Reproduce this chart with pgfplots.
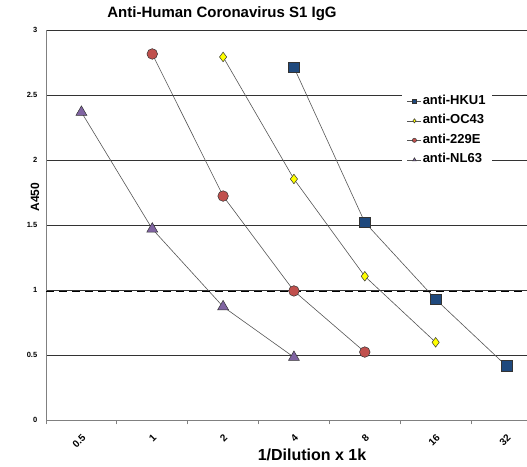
\documentclass[border=0pt]{standalone}
\usepackage{fontspec}
\setmainfont{Liberation Sans}
\usepackage{pgfplots}
\pgfplotsset{compat=1.18}

\definecolor{hkublue}{HTML}{1F497D}
\definecolor{ocyellow}{HTML}{FFFF00}
\definecolor{ered}{HTML}{C0504D}
\definecolor{nlpurple}{HTML}{8064A2}
\definecolor{conn}{HTML}{555555}
\definecolor{markedge}{HTML}{333333}

\begin{document}
\begin{tikzpicture}
  \path[use as bounding box] (0,0) rectangle (527pt,466pt);
  \begin{axis}[
      at={(46pt,45.7pt)}, anchor=south west,
      scale only axis, width=481pt, height=390pt,
      xmin=-0.5, xmax=6.29, ymin=0, ymax=3,
      axis x line=bottom, axis y line=left,
      axis line style={draw=gray, line width=0.8pt, -},
      xtick={0,...,6},
      xticklabels={0.5,1,2,4,8,16,32},
      major x tick style={draw=none},
      minor xtick={-0.5,0.5,1.5,2.5,3.5,4.5,5.5},
      minor x tick style={draw=gray, line width=0.8pt},
      minor tick length=4pt,
      tick align=outside,
      ytick={0,0.5,...,3},
      ytick style={draw=none},
      ymajorgrids, grid style={black!80, line width=0.7pt},
      /pgf/number format/assume math mode=true,
      ticklabel style={font=\bfseries\fontsize{7.5}{8}\selectfont},
      xticklabel style={font=\bfseries\fontsize{10}{11}\selectfont,
        rotate=45, anchor=north east, xshift=-3pt, yshift=-3pt},
      yticklabel style={xshift=-1pt},
      clip=false,
      legend style={at={(0.740,0.844)}, anchor=north west, draw=none, fill=white,
        font=\bfseries\fontsize{13}{14}\selectfont,
        nodes={inner sep=1pt, text height=9pt, text depth=3pt},
        row sep=5.5pt, inner xsep=5pt, inner ysep=3pt},
      legend cell align=left,
      legend image code/.code={
        \draw[conn, line width=0.6pt] (0pt,0pt) -- (14pt,0pt);
        \draw[mark size=2.1pt] plot coordinates {(7pt,0pt)};
      },
    ]
    \addplot[conn, line width=0.6pt, mark=square*, mark size=5.3pt,
      mark options={fill=hkublue, draw=markedge, line width=0.5pt}]
      coordinates {(3,2.715) (4,1.523) (5,0.931) (6,0.418)};
    \addlegendentry{anti-HKU1}
    \addplot[conn, line width=0.6pt, mark=diamond*, mark size=4.8pt,
      mark options={fill=ocyellow, draw=markedge, line width=0.5pt}]
      coordinates {(2,2.795) (3,1.856) (4,1.108) (5,0.600)};
    \addlegendentry{anti-OC43}
    \addplot[conn, line width=0.6pt, mark=*, mark size=5.3pt,
      mark options={fill=ered, draw=markedge, line width=0.5pt}]
      coordinates {(1,2.818) (2,1.725) (3,0.995) (4,0.525)};
    \addlegendentry{anti-229E}
    \addplot[conn, line width=0.6pt, mark=triangle*, mark size=6.3pt,
      mark options={fill=nlpurple, draw=markedge, line width=0.5pt}]
      coordinates {(0,2.370) (1,1.472) (2,0.874) (3,0.485)};
    \addlegendentry{anti-NL63}
    \addplot[black, line width=1.4pt, dash pattern=on 8pt off 5pt, forget plot]
      coordinates {(-0.5,0.989) (6.29,0.989)};
  \end{axis}
  \node[font=\bfseries\fontsize{15}{17}\selectfont] at (222pt,452pt) {Anti-Human Coronavirus S1 IgG};
  \node[font=\bfseries\fontsize{16}{18}\selectfont] at (312pt,11pt) {1/Dilution x 1k};
  \node[font=\bfseries\fontsize{12}{14}\selectfont, rotate=90] at (35pt,269pt) {A450};
\end{tikzpicture}
\end{document}
